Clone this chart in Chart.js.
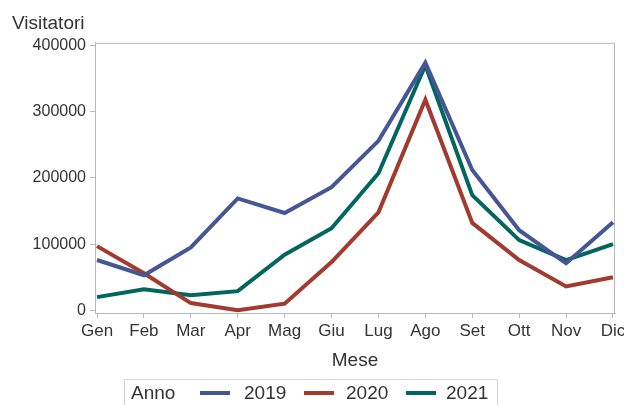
<!DOCTYPE html>
<html lang="it">
<head>
    <meta charset="UTF-8" />
    <title>Visitatori per mese</title>
    <script src="https://cdn.jsdelivr.net/npm/chart.js"></script>
    <style>
        body { margin: 0; background: #fff; }
        #box { position: relative; width: 624px; height: 405px; overflow: hidden; }
        #legenda {
            position: absolute; left: 124px; top: 379px; width: 374px; height: 40px;
            border: 1px solid #d3d6d8; box-sizing: border-box;
            font-family: 'Liberation Sans', Arial, sans-serif; font-size: 19px; color: #333;
            white-space: nowrap;
        }
        #legenda span { position: absolute; top: 2px; line-height: 22px; }
        #legenda i { position: absolute; top: 11px; width: 30px; height: 4px; }
    </style>
</head>
<body>
    <div id="box">
        <canvas id="grafico" width="624" height="405"></canvas>
        <div id="legenda"></div>
    </div>

    <script>
        // dati
        const mesi = ['Gen', 'Feb', 'Mar', 'Apr', 'Mag', 'Giu', 'Lug', 'Ago', 'Set', 'Ott', 'Nov', 'Dic'];
        const anni = ['2019', '2020', '2021'];
        const visitatori2019 = [76000, 53000, 95000, 169000, 147000, 186000, 256000, 374000, 212000, 121000, 71000, 133000];
        const visitatori2020 = [97000, 56000, 11000, 0, 10000, 73000, 148000, 318000, 132000, 76000, 36000, 50000];
        const visitatori2021 = [20000, 32000, 23000, 29000, 84000, 124000, 207000, 370000, 174000, 106000, 76000, 100000];
        const yTicks = [0, 100000, 200000, 300000, 400000];

        const colori = ['#445694', '#A23A2E', '#01665E'];
        const serie = [visitatori2019, visitatori2020, visitatori2021];
        const font = 'Liberation Sans, Arial, sans-serif';
        const grigio = '#b3babe';

        // cornice attorno all'area del grafico
        const cornice = {
            id: 'cornice',
            beforeDatasetsDraw(chart) {
                const { ctx, chartArea: a } = chart;
                ctx.save();
                ctx.strokeStyle = grigio;
                ctx.lineWidth = 1;
                ctx.strokeRect(a.left + 0.5, a.top + 0.5, a.right - a.left - 1, a.bottom - a.top);
                ctx.restore();
            }
        };

        const ctx = document.getElementById('grafico').getContext('2d');

        new Chart(ctx, {
            type: 'line',
            data: {
                datasets: serie.map((valori, k) => ({
                    label: anni[k],
                    data: valori.map((v, i) => ({ x: i, y: v })),
                    borderColor: colori[k],
                    borderWidth: 4,
                    pointRadius: 0,
                    tension: 0,
                    fill: false
                }))
            },
            options: {
                responsive: false,
                animation: false,
                layout: { padding: { left: 12, right: 9, top: 0, bottom: 0 } },
                plugins: {
                    legend: { display: false },
                    tooltip: { enabled: false },
                    title: {
                        display: true,
                        text: 'Visitatori',
                        align: 'start',
                        color: '#333',
                        font: { family: font, size: 19, weight: 'normal' },
                        padding: { top: 12, bottom: 8 }
                    }
                },
                scales: {
                    x: {
                        type: 'linear',
                        min: -0.043,
                        max: 11.043,
                        afterBuildTicks: s => { s.ticks = mesi.map((m, i) => ({ value: i })); },
                        afterFit: s => { s.height = 92; s.paddingLeft = 0; s.paddingRight = 0; },
                        ticks: {
                            callback: v => mesi[v],
                            autoSkip: false,
                            maxRotation: 0,
                            padding: 3,
                            color: '#333',
                            font: { family: font, size: 17 }
                        },
                        grid: { drawOnChartArea: false, drawTicks: true, tickLength: 5, color: grigio },
                        border: { color: grigio },
                        title: {
                            display: true,
                            text: 'Mese',
                            color: '#333',
                            font: { family: font, size: 19 },
                            padding: { top: 0, bottom: 33 }
                        }
                    },
                    y: {
                        min: -4000,
                        max: 404000,
                        afterBuildTicks: s => { s.ticks = yTicks.map(v => ({ value: v })); },
                        afterFit: s => { s.width = 83; s.paddingTop = 0; s.paddingBottom = 0; },
                        ticks: {
                            callback: v => String(v),
                            padding: 4,
                            color: '#333',
                            font: { family: font, size: 16 }
                        },
                        grid: { drawOnChartArea: false, drawTicks: true, tickLength: 5, color: grigio },
                        border: { color: grigio }
                    }
                }
            },
            plugins: [cornice]
        });

        // legenda in basso
        const legenda = document.getElementById('legenda');
        const posizioni = [[75, 119], [179, 221], [281, 321]];
        let html = '<span style="left:6px">Anno</span>';
        anni.forEach((a, k) => {
            html += '<i style="left:' + posizioni[k][0] + 'px;background:' + colori[k] + '"></i>';
            html += '<span style="left:' + posizioni[k][1] + 'px">' + a + '</span>';
        });
        legenda.innerHTML = html;
    </script>
</body>
</html>
